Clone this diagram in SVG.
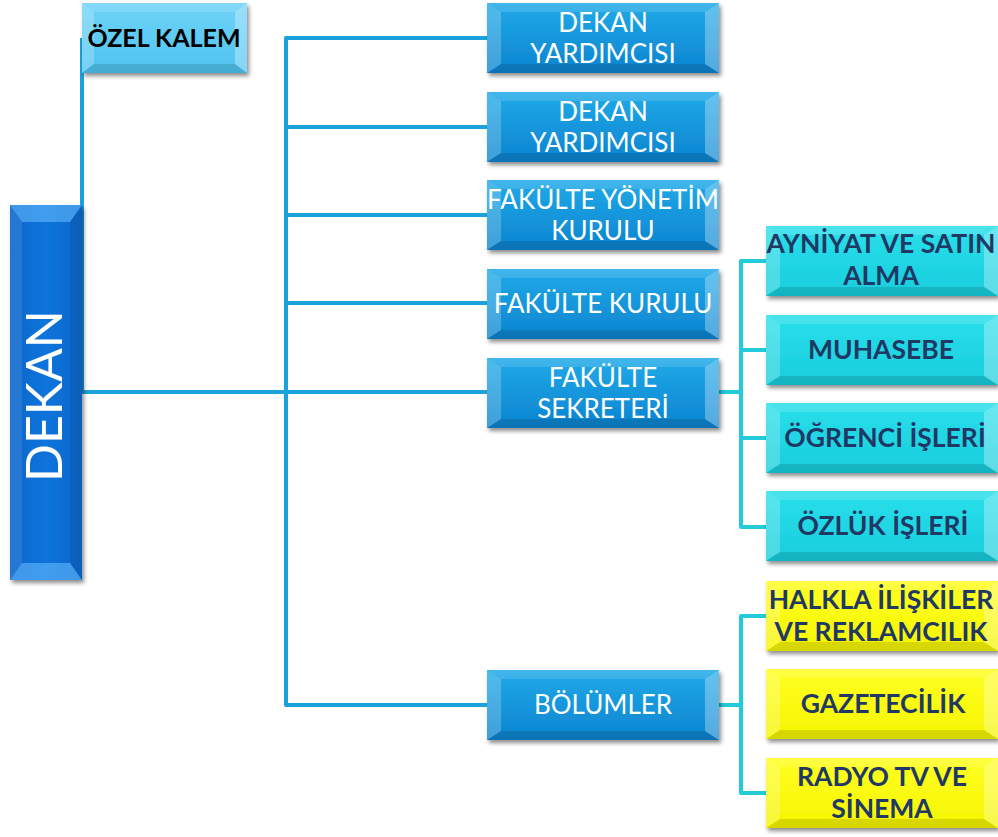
<svg xmlns="http://www.w3.org/2000/svg" xmlns:xlink="http://www.w3.org/1999/xlink" width="998" height="837" viewBox="0 0 998 837">
<style>
.conn{fill:none;stroke:#1ba2dd;stroke-width:4;stroke-linejoin:round}
.conn2{fill:none;stroke:#22cbd9;stroke-width:4;stroke-linejoin:round}
.wt{font-family:Lato,"Open Sans","Liberation Sans",sans-serif;font-size:26px;fill:#ffffff;text-anchor:middle}
.bt{font-family:Lato,"Open Sans","Liberation Sans",sans-serif;font-size:26.5px;font-weight:bold;fill:#1f3864;text-anchor:middle}
.kt{font-family:Lato,"Open Sans","Liberation Sans",sans-serif;font-size:25px;font-weight:bold;fill:#000000;text-anchor:middle}
.dt{font-family:Lato,"Open Sans","Liberation Sans",sans-serif;font-size:50px;fill:#ffffff;text-anchor:middle}
</style>
<defs>
<filter id="sh" x="-10%" y="-10%" width="125%" height="135%">
<feDropShadow dx="2" dy="3" stdDeviation="2" flood-color="#000" flood-opacity="0.45"/>
</filter>
<linearGradient id="gBlue" x1="0" y1="0" x2="0" y2="1">
<stop offset="0" stop-color="#20a9e8"/><stop offset="1" stop-color="#0c84d0"/>
</linearGradient>
<linearGradient id="gDekan" x1="0" y1="0" x2="1" y2="0">
<stop offset="0" stop-color="#0a66c9"/><stop offset="0.5" stop-color="#0b74dc"/><stop offset="1" stop-color="#0a66c9"/>
</linearGradient>
<linearGradient id="gTeal" x1="0" y1="0" x2="0" y2="1">
<stop offset="0" stop-color="#2adfeb"/><stop offset="1" stop-color="#18cddd"/>
</linearGradient>
<linearGradient id="gYel" x1="0" y1="0" x2="0" y2="1">
<stop offset="0" stop-color="#ffff22"/><stop offset="1" stop-color="#f5f500"/>
</linearGradient>
<linearGradient id="gOzel" x1="0" y1="0" x2="0" y2="1">
<stop offset="0" stop-color="#6fd3f7"/><stop offset="1" stop-color="#4ec3f0"/>
</linearGradient>
<g id="bev">
<polygon points="0,0 14,9 14,61 0,70" fill="#ffffff" opacity="0.22"/>
<polygon points="232,0 218,9 218,61 232,70" fill="#ffffff" opacity="0.3"/>
<polygon points="0,0 232,0 218,9 14,9" fill="#ffffff" opacity="0.15"/>
<polygon points="0,70 232,70 218,61 14,61" fill="#000000" opacity="0.12"/>
</g>
<g id="bevK">
<polygon points="0,0 12,9 12,61 0,70" fill="#ffffff" opacity="0.22"/>
<polygon points="165,0 153,9 153,61 165,70" fill="#ffffff" opacity="0.3"/>
<polygon points="0,0 165,0 153,9 12,9" fill="#ffffff" opacity="0.15"/>
<polygon points="0,70 165,70 153,61 12,61" fill="#000000" opacity="0.12"/>
</g>
</defs>

<g id="connectors">
<polyline class="conn" points="82,38 82,392 286,392"/>
<polyline class="conn" points="487,38 286,38 286,705 487,705"/>
<line class="conn" x1="286" y1="127" x2="487" y2="127"/>
<line class="conn" x1="286" y1="215" x2="487" y2="215"/>
<line class="conn" x1="286" y1="303" x2="487" y2="303"/>
<line class="conn" x1="286" y1="392" x2="487" y2="392"/>
<line class="conn2" x1="719" y1="392" x2="741" y2="392"/>
<polyline class="conn2" points="766,261 741,261 741,527 766,527"/>
<line class="conn2" x1="741" y1="350" x2="766" y2="350"/>
<line class="conn2" x1="741" y1="438" x2="766" y2="438"/>
<line class="conn2" x1="719" y1="705" x2="741" y2="705"/>
<polyline class="conn2" points="766,616 741,616 741,793 766,793"/>
</g>

<g id="dekan">
<rect x="10" y="205" width="72" height="375" fill="url(#gDekan)" filter="url(#sh)"/>
<polygon points="10,205 82,205 70,222 22,222" fill="#6cc0ff" opacity="0.55"/>
<polygon points="10,580 82,580 70,563 22,563" fill="#6cc0ff" opacity="0.55"/>
<polygon points="10,205 22,222 22,563 10,580" fill="#ffffff" opacity="0.1"/>
<polygon points="82,205 70,222 70,563 82,580" fill="#000000" opacity="0.08"/>
<text class="dt" transform="translate(62,396) rotate(-90)">DEKAN</text>
</g>

<g id="ozel-kalem">
<rect x="82" y="3" width="165" height="70" fill="url(#gOzel)" filter="url(#sh)"/>
<use href="#bevK" x="82" y="3"/>
<text class="kt" x="164" y="47">ÖZEL KALEM</text>
</g>

<g id="dekan-yardimcisi-1">
<rect x="487" y="3" width="232" height="70" fill="url(#gBlue)" filter="url(#sh)"/>
<use href="#bev" x="487" y="3"/>
<text class="wt" x="603" y="32">DEKAN</text>
<text class="wt" x="603" y="63">YARDIMCISI</text>
</g>

<g id="dekan-yardimcisi-2">
<rect x="487" y="92" width="232" height="70" fill="url(#gBlue)" filter="url(#sh)"/>
<use href="#bev" x="487" y="92"/>
<text class="wt" x="603" y="121">DEKAN</text>
<text class="wt" x="603" y="152">YARDIMCISI</text>
</g>

<g id="fakulte-yonetim-kurulu">
<rect x="487" y="180" width="232" height="70" fill="url(#gBlue)" filter="url(#sh)"/>
<use href="#bev" x="487" y="180"/>
<text class="wt" x="603" y="209">FAKÜLTE YÖNETİM</text>
<text class="wt" x="603" y="240">KURULU</text>
</g>

<g id="fakulte-kurulu">
<rect x="487" y="269" width="232" height="70" fill="url(#gBlue)" filter="url(#sh)"/>
<use href="#bev" x="487" y="269"/>
<text class="wt" x="603" y="313">FAKÜLTE KURULU</text>
</g>

<g id="fakulte-sekreteri">
<rect x="487" y="358" width="232" height="70" fill="url(#gBlue)" filter="url(#sh)"/>
<use href="#bev" x="487" y="358"/>
<text class="wt" x="603" y="387">FAKÜLTE</text>
<text class="wt" x="603" y="418">SEKRETERİ</text>
</g>

<g id="bolumler">
<rect x="487" y="670" width="232" height="70" fill="url(#gBlue)" filter="url(#sh)"/>
<use href="#bev" x="487" y="670"/>
<text class="wt" x="603" y="714">BÖLÜMLER</text>
</g>

<g id="ayniyat">
<rect x="766" y="226" width="232" height="70" fill="url(#gTeal)" filter="url(#sh)"/>
<use href="#bev" x="766" y="226"/>
<text class="bt" x="881" y="253">AYNİYAT VE SATIN</text>
<text class="bt" x="881" y="285">ALMA</text>
</g>

<g id="muhasebe">
<rect x="766" y="315" width="232" height="70" fill="url(#gTeal)" filter="url(#sh)"/>
<use href="#bev" x="766" y="315"/>
<text class="bt" x="881" y="359">MUHASEBE</text>
</g>

<g id="ogrenci-isleri">
<rect x="766" y="403" width="232" height="70" fill="url(#gTeal)" filter="url(#sh)"/>
<use href="#bev" x="766" y="403"/>
<text class="bt" x="885" y="447">ÖĞRENCİ İŞLERİ</text>
</g>

<g id="ozluk-isleri">
<rect x="766" y="491" width="232" height="70" fill="url(#gTeal)" filter="url(#sh)"/>
<use href="#bev" x="766" y="491"/>
<text class="bt" x="883" y="535">ÖZLÜK İŞLERİ</text>
</g>

<g id="halkla-iliskiler">
<rect x="766" y="581" width="232" height="70" fill="url(#gYel)" filter="url(#sh)"/>
<use href="#bev" x="766" y="581"/>
<text class="bt" x="881" y="609">HALKLA İLİŞKİLER</text>
<text class="bt" x="881" y="641">VE REKLAMCILIK</text>
</g>

<g id="gazetecilik">
<rect x="766" y="669" width="232" height="70" fill="url(#gYel)" filter="url(#sh)"/>
<use href="#bev" x="766" y="669"/>
<text class="bt" x="883" y="713">GAZETECİLİK</text>
</g>

<g id="radyo-tv-sinema">
<rect x="766" y="758" width="232" height="70" fill="url(#gYel)" filter="url(#sh)"/>
<use href="#bev" x="766" y="758"/>
<text class="bt" x="882" y="786">RADYO TV VE</text>
<text class="bt" x="882" y="818">SİNEMA</text>
</g>
</svg>
